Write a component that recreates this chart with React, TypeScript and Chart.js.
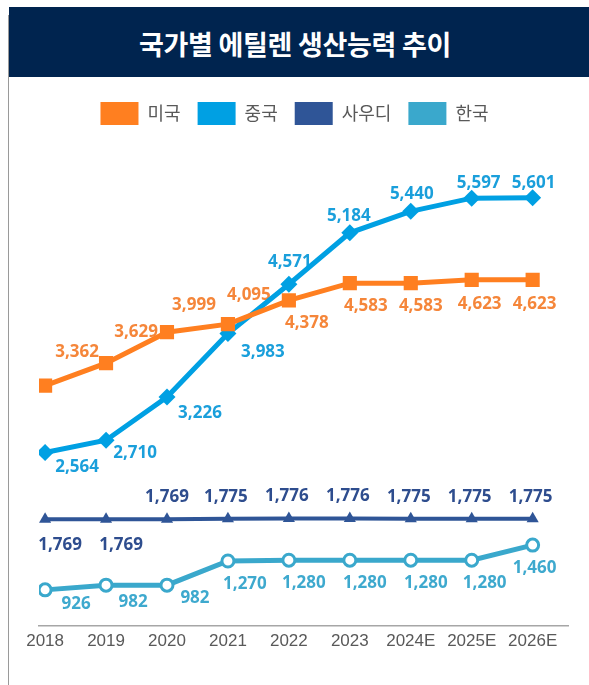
import React, { useEffect, useRef } from "react";
import { Chart, registerables } from "chart.js";

Chart.register(...registerables);

const title = "국가별 에틸렌 생산능력 추이";
const categories = ["2018", "2019", "2020", "2021", "2022", "2023", "2024E", "2025E", "2026E"];
const seriesNames = ["미국", "중국", "사우디", "한국"];
const usa = [3362, 3629, 3999, 4095, 4378, 4583, 4583, 4623, 4623];
const china = [2564, 2710, 3226, 3983, 4571, 5184, 5440, 5597, 5601];
const saudi = [1769, 1769, 1769, 1775, 1776, 1776, 1775, 1775, 1775];
const korea = [926, 982, 982, 1270, 1280, 1280, 1280, 1280, 1460];

const seriesValues = [usa, china, saudi, korea];

// styling / label placement (not data)
const lineColors = ["#FF7F20", "#00A0E3", "#2F5597", "#3AA8CC"];
const labelColors = ["#F5863A", "#1A9FDB", "#2E4D8E", "#3EA9CE"];
const labelOffsets: number[][][] = [
  [[32, -33], [30, -31], [27, -27], [21, -29], [18, 23], [16, 23], [10, 23], [8, 24], [2, 24]],
  [[32, 15], [29, 13], [33, 16], [35, 19], [1, -22], [-1, -17], [1, -17], [7, -15], [1, -15]],
  [[15, 26], [15, 26], [0, -22], [-2, -22], [-2, -22], [-2, -22], [-2, -22], [-2, -22], [-2, -22]],
  [[31, 14], [27, 17], [28, 13], [17, 23], [15, 23], [15, 23], [15, 23], [13, 23], [2, 23]],
];

const fmt = (v: number) => v.toLocaleString("en-US");

const pointLabels = {
  id: "pointLabels",
  beforeDatasetsDraw(chart: any) {
    const ctx = chart.ctx;
    seriesValues.forEach((vals, di) => {
      const meta = chart.getDatasetMeta(di);
      ctx.save();
      ctx.font = 'bold 17px "Noto Sans", sans-serif';
      ctx.fillStyle = labelColors[di];
      ctx.textAlign = "center";
      ctx.textBaseline = "middle";
      meta.data.forEach((el: any, i: number) => {
        const [dx, dy] = labelOffsets[di][i];
        ctx.fillText(fmt(vals[i]), el.x + dx, el.y + dy);
      });
      ctx.restore();
    });
  },
};

const legendShift = {
  id: "legendShift",
  afterLayout(chart: any) {
    const lg = chart.legend;
    if (lg) {
      lg.left -= 9;
      lg.right -= 9;
    }
  },
};

export default function App() {
  const ref = useRef<HTMLCanvasElement | null>(null);

  useEffect(() => {
    if (!ref.current) return;
    const mk = (vals: number[]) => vals.map((v, i) => ({ x: i, y: v }));
    const chart = new Chart(ref.current, {
      type: "line",
      data: {
        datasets: [
          {
            label: seriesNames[0],
            data: mk(usa),
            borderColor: lineColors[0],
            backgroundColor: lineColors[0],
            borderWidth: 5,
            pointStyle: "rect",
            pointRadius: 10,
            pointBorderWidth: 0,
            pointBackgroundColor: lineColors[0],
          },
          {
            label: seriesNames[1],
            data: mk(china),
            borderColor: lineColors[1],
            backgroundColor: lineColors[1],
            borderWidth: 5,
            pointStyle: "rectRot",
            pointRadius: 8.5,
            pointBorderWidth: 0,
            pointBackgroundColor: lineColors[1],
          },
          {
            label: seriesNames[2],
            data: mk(saudi),
            borderColor: lineColors[2],
            backgroundColor: lineColors[2],
            borderWidth: 4,
            pointStyle: "triangle",
            pointRadius: 7,
            pointBorderWidth: 0,
            pointBackgroundColor: lineColors[2],
          },
          {
            label: seriesNames[3],
            data: mk(korea),
            borderColor: lineColors[3],
            backgroundColor: lineColors[3],
            borderWidth: 5,
            pointStyle: "circle",
            pointRadius: 6,
            pointBorderWidth: 3,
            pointBorderColor: lineColors[3],
            pointBackgroundColor: "#ffffff",
          },
        ],
      },
      options: {
        responsive: false,
        animation: false,
        events: [],
        layout: { padding: { left: 30, right: 21, top: 8, bottom: 27 } },
        plugins: {
          tooltip: { enabled: false },
          legend: {
            display: true,
            position: "top",
            labels: {
              boxWidth: 38,
              boxHeight: 23,
              padding: 17,
              color: "#595959",
              font: { family: '"Noto Sans CJK KR", sans-serif', size: 18 },
              generateLabels: (c: any) =>
                Chart.defaults.plugins.legend.labels
                  .generateLabels(c)
                  .map((it: any) => ({ ...it, lineWidth: 0 })),
            },
          },
        },
        scales: {
          x: {
            type: "linear",
            min: -0.1,
            max: 8.58,
            grid: { display: false, drawTicks: false },
            border: { display: true, color: "#A6A6A6", width: 1.5 },
            afterBuildTicks: (scale: any) => {
              scale.ticks = categories.map((_, i) => ({ value: i }));
            },
            ticks: {
              padding: 6,
              color: "#595959",
              font: { family: '"Liberation Sans", Arial, sans-serif', size: 17 },
              autoSkip: false,
              maxRotation: 0,
              callback: (v: any) => categories[v as number] ?? "",
            },
          },
          y: {
            display: false,
            min: 500,
            max: 6350,
          },
        },
      },
      plugins: [pointLabels, legendShift],
    });
    return () => chart.destroy();
  }, []);

  return (
    <div
      style={{
        position: "absolute",
        left: 0,
        top: 0,
        width: 589,
        height: 685,
        overflow: "hidden",
        background: "#ffffff",
      }}
    >
      <div
        style={{
          position: "absolute",
          left: 8,
          top: 15,
          width: 1,
          height: 670,
          background: "#9a9a9a",
        }}
      />
      <div
        style={{
          position: "absolute",
          left: 9,
          top: 7,
          width: 580,
          height: 70,
          background: "#00244F",
          color: "#ffffff",
          display: "flex",
          alignItems: "center",
          justifyContent: "center",
          fontFamily: '"Noto Sans CJK KR", sans-serif',
          fontWeight: 700,
          fontSize: 27,
          letterSpacing: -0.3,
          paddingTop: 2,
          boxSizing: "border-box",
          paddingRight: 8,
        }}
      >
        {title}
      </div>
      <div style={{ position: "absolute", left: 9, top: 77, width: 580, height: 608 }}>
        <canvas ref={ref} width={580} height={608} style={{ width: 580, height: 608, display: "block" }} />
      </div>
    </div>
  );
}
